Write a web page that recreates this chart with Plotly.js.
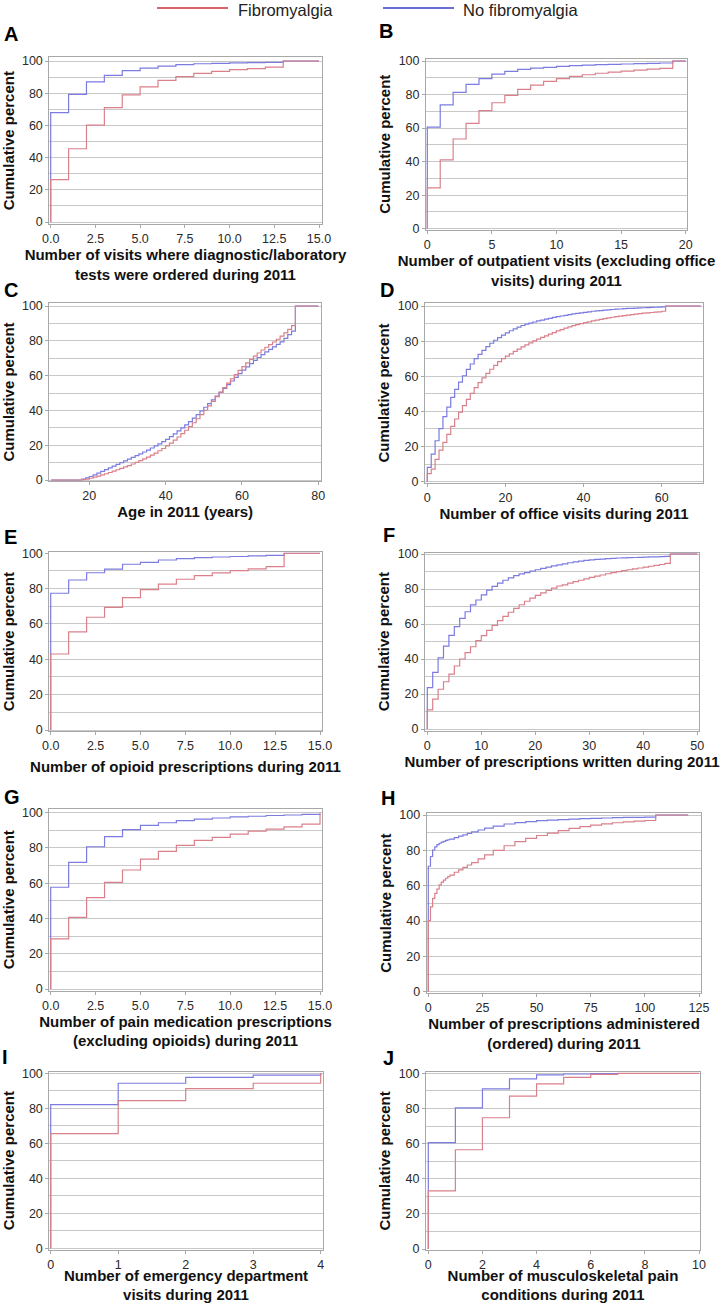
<!DOCTYPE html>
<html><head><meta charset="utf-8">
<script src="https://cdn.plot.ly/plotly-3.0.1.min.js"></script>
<style>html,body{margin:0;padding:0;background:#fff}</style>
</head><body><div id="chart" style="width:728px;height:1303px"></div>
<script>
// ---------------- DATA (cumulative percent, empirical CDF steps) ----------------
const seriesNames = ["Fibromyalgia", "No fibromyalgia"];

// A: visits with diagnostic/laboratory tests
const aX   = [0, 0, 1, 2, 3, 4, 5, 6, 7, 8, 9, 10, 11, 12, 13, 15];
const aFib = [0, 26.3, 45.5, 60.2, 71.0, 78.9, 83.9, 88.0, 90.3, 92.3, 93.5, 94.6, 95.3, 96.2, 100, 100];
const aNo  = [0, 67.9, 79.3, 87.0, 91.1, 94.0, 95.6, 96.8, 97.7, 98.3, 98.5, 98.8, 99.0, 99.1, 100, 100];

// B: outpatient visits (excluding office visits)
const bX   = [0, 0, 1, 2, 3, 4, 5, 6, 7, 8, 9, 10, 11, 12, 13, 14, 15, 16, 17, 18, 19, 20];
const bFib = [0, 24.3, 41.0, 53.5, 62.8, 70.4, 75.1, 79.5, 83.1, 85.6, 87.8, 89.5, 90.8, 91.8, 92.7, 93.4, 94.0, 94.6, 95.1, 95.6, 100, 100];
const bNo  = [0, 60.6, 73.8, 81.3, 86.1, 89.5, 92.2, 93.8, 95.0, 95.8, 96.2, 96.8, 97.2, 97.5, 97.8, 98.0, 98.2, 98.4, 98.6, 98.8, 100, 100];

// C: age in 2011 (years)
const cX   = [10, 18, 19, 20, 21, 22, 23, 24, 25, 26, 27, 28, 29, 30, 31, 32, 33, 34, 35, 36, 37, 38, 39, 40,
              41, 42, 43, 44, 45, 46, 47, 48, 49, 50, 51, 52, 53, 54, 55, 56, 57, 58, 59, 60, 61, 62, 63, 64,
              65, 66, 67, 68, 69, 70, 71, 72, 73, 74, 80];
const cFib = [0, 0.2, 0.5, 1.0, 1.6, 2.2, 2.9, 3.6, 4.3, 5.1, 5.9, 6.7, 7.5, 8.3, 9.2, 10.1, 11.1, 12.1, 13.2, 14.3, 15.5, 16.8, 18.1, 19.6,
              21.2, 22.9, 24.7, 26.6, 28.6, 30.7, 32.9, 35.2, 37.6, 40.1, 42.6, 45.2, 47.9, 50.5, 53.1, 55.7, 58.2, 60.6, 63.0, 65.2, 67.3, 69.3, 71.2, 73.0,
              74.7, 76.3, 77.8, 79.3, 80.9, 82.7, 84.6, 86.6, 88.7, 100, 100];
const cNo  = [0, 0.5, 1.2, 2.0, 3.0, 4.0, 5.0, 6.0, 7.0, 8.0, 9.0, 10.0, 11.0, 12.0, 13.0, 14.0, 15.0, 16.1, 17.2, 18.4, 19.6, 20.8, 22.1, 23.4,
              24.9, 26.5, 28.2, 29.9, 31.7, 33.6, 35.6, 37.6, 39.7, 41.8, 43.9, 46.0, 48.2, 50.4, 52.6, 54.8, 56.9, 59.0, 61.1, 63.1, 65.0, 66.9, 68.7, 70.4,
              72.0, 73.6, 75.1, 76.5, 77.9, 79.4, 81.4, 83.5, 85.6, 100, 100];

// D: office visits
const dX   = [0, 0, 1, 2, 3, 4, 5, 6, 7, 8, 9, 10, 11, 12, 13, 14, 15, 16, 17, 18, 19, 20, 21, 22, 23, 24, 25, 26, 27, 28, 29, 30,
              31, 32, 33, 34, 35, 36, 37, 38, 39, 40, 41, 42, 43, 44, 45, 46, 47, 48, 49, 50, 51, 52, 53, 54, 55, 56, 57, 58, 59, 60, 61, 70];
const dFib = [0, 4.6, 7.2, 12.7, 18.0, 22.4, 26.9, 31.5, 35.7, 39.6, 43.3, 46.9, 50.3, 53.5, 56.4, 59.1, 61.7, 64.0, 66.2, 68.3, 70.0, 71.5,
              72.8, 74.2, 75.5, 76.7, 77.9, 79.0, 80.1, 81.1, 82.1, 83.0, 84.0, 84.9, 85.8, 86.6, 87.4, 88.1, 88.8, 89.4, 90.0, 90.5,
              91.0, 91.5, 92.0, 92.4, 92.8, 93.2, 93.6, 93.9, 94.2, 94.5, 94.8, 95.1, 95.4, 95.7, 95.9, 96.1, 96.3, 96.5, 96.7, 97.0, 100, 100];
const dNo  = [0, 8.2, 15.7, 23.3, 30.2, 37.0, 42.5, 48.0, 52.6, 56.7, 60.3, 63.9, 67.0, 70.0, 72.5, 74.8, 76.9, 78.8, 80.5, 82.0, 83.4, 84.7,
              85.9, 87.0, 88.0, 88.9, 89.7, 90.2, 90.9, 91.5, 92.0, 92.5, 93.0, 93.5, 93.9, 94.3, 94.7, 95.1, 95.5, 95.8, 96.1, 96.4,
              96.7, 97.0, 97.2, 97.4, 97.6, 97.8, 98.0, 98.2, 98.3, 98.5, 98.6, 98.7, 98.8, 98.9, 99.0, 99.1, 99.2, 99.3, 99.4, 99.5, 100, 100];

// E: opioid prescriptions
const eX   = [0, 0, 1, 2, 3, 4, 5, 6, 7, 8, 9, 10, 11, 12, 13, 15];
const eFib = [0, 43.0, 55.5, 63.8, 69.4, 74.9, 79.4, 82.6, 85.3, 87.4, 88.9, 90.2, 91.2, 92.5, 100, 100];
const eNo  = [0, 77.4, 84.9, 89.0, 91.1, 93.8, 94.9, 96.2, 97.0, 97.5, 97.9, 98.2, 98.5, 98.8, 100, 100];

// F: prescriptions written
const fX   = [0, 0, 1, 2, 3, 4, 5, 6, 7, 8, 9, 10, 11, 12, 13, 14, 15, 16, 17, 18, 19, 20, 21, 22, 23, 24, 25, 26, 27, 28, 29, 30,
              31, 32, 33, 34, 35, 36, 37, 38, 39, 40, 41, 42, 43, 44, 45, 50];
const fFib = [0, 10.9, 17.1, 22.7, 27.0, 31.4, 36.0, 40.0, 43.6, 47.0, 50.5, 53.3, 56.3, 59.2, 61.9, 64.4, 66.7, 68.9, 71.0, 73.0, 74.8,
              76.3, 77.8, 79.2, 80.5, 81.7, 82.4, 83.3, 84.2, 85.0, 85.8, 86.6, 87.3, 88.0, 88.7, 89.3, 89.9, 90.5, 91.0, 91.5, 92.0,
              92.5, 93.0, 93.5, 94.0, 94.6, 100, 100];
const fNo  = [0, 23.6, 32.4, 40.6, 47.4, 53.5, 58.5, 63.2, 67.0, 70.9, 73.7, 76.6, 79.4, 81.5, 83.3, 85.0, 86.4, 87.6, 88.6, 89.4, 90.2,
              91.0, 91.8, 92.5, 93.2, 93.8, 94.4, 95.0, 95.5, 95.9, 96.3, 96.6, 96.9, 97.1, 97.3, 97.5, 97.7, 97.8, 97.9, 98.0, 98.1,
              98.2, 98.3, 98.4, 98.5, 98.6, 100, 100];

// G: pain medication prescriptions (excluding opioids)
const gX   = [0, 0, 1, 2, 3, 4, 5, 6, 7, 8, 9, 10, 11, 12, 13, 14, 15];
const gFib = [0, 28.4, 40.6, 51.8, 60.5, 67.5, 73.7, 78.1, 81.5, 84.3, 86.0, 87.8, 89.5, 90.7, 92.0, 93.5, 100];
const gNo  = [0, 57.7, 71.8, 80.7, 86.4, 90.4, 92.8, 94.3, 95.5, 96.3, 97.0, 97.6, 98.0, 98.4, 98.7, 99.0, 99.2];

// H: prescriptions administered (ordered)
const hX   = [0, 0, 1, 2, 3, 4, 5, 6, 7, 8, 9, 10, 12, 14, 16, 18, 20, 23, 26, 30, 35, 40, 45, 50, 55, 60, 65, 70, 75, 80, 85, 90, 95, 100, 105, 120];
const hFib = [0, 40.2, 48.0, 52.8, 55.7, 58.0, 60.4, 62.0, 63.2, 64.2, 65.1, 66.0, 67.6, 69.0, 70.4, 71.7, 73.0, 75.2, 77.4, 80.0, 82.6, 84.9,
              86.8, 88.4, 89.7, 91.2, 92.4, 93.4, 94.3, 95.0, 95.6, 96.1, 96.5, 96.9, 100, 100];
const hNo  = [0, 71.0, 76.5, 80.2, 82.0, 83.2, 84.0, 84.6, 85.1, 85.6, 86.0, 86.4, 87.2, 88.0, 88.8, 89.6, 90.4, 91.5, 92.6, 93.7, 94.9, 95.7,
              96.3, 96.8, 97.1, 97.4, 97.7, 97.9, 98.1, 98.3, 98.5, 98.6, 98.7, 98.8, 100, 100];

// I: emergency department visits
const iX   = [0, 0, 1, 2, 3, 4];
const iFib = [0, 65.5, 84.4, 91.2, 94.3, 100];
const iNo  = [0, 82.1, 94.3, 97.7, 98.9, 100];

// J: musculoskeletal pain conditions
const jFibX = [0, 0, 1, 2, 3, 4, 5, 6, 7, 10];
const jFib  = [0, 33.1, 56.5, 74.7, 87.0, 94.0, 97.7, 99.4, 100, 100];
const jNoX  = [0, 0, 1, 2, 3, 4, 5, 6, 7];
const jNo   = [0, 60.5, 80.3, 91.1, 96.8, 99.1, 99.6, 99.9, 100];

const xTitles = [
  "Number of visits where diagnostic/laboratory<br>tests were ordered during 2011",
  "Number of outpatient visits (excluding office<br>visits) during 2011",
  "Age in 2011 (years)",
  "Number of office visits during 2011",
  "Number of opioid prescriptions during 2011",
  "Number of prescriptions written during 2011",
  "Number of pain medication prescriptions<br>(excluding opioids) during 2011",
  "Number of prescriptions administered<br>(ordered) during 2011",
  "Number of emergency department<br>visits during 2011",
  "Number of musculoskeletal pain<br>conditions during 2011"
];
const panelLetters = ["A","B","C","D","E","F","G","H","I","J"];
const yTitle = "Cumulative percent";

const W = 728, H = 1303;
const RED = "#d9808a", BLUE = "#7b7be0";
const panels = [
  {box:[49.3,321.7,57.3,224],  xm:[50.7,0,319,15],   ym:[222,0,61,100],     dtick:2.5, fmt:".1f", tick0:0, so:3, lt:[2,34]},
  {box:[426,687,58.5,230],     xm:[427.3,0,685.7,20],ym:[228.7,0,61,100],   dtick:5,   fmt:"d",   tick0:0, so:0, lt:[377,31]},
  {box:[49.3,321,303,481],     xm:[89.3,20,318.3,80],ym:[480,0,306,100],    dtick:20,  fmt:"d",   tick0:20,so:3, lt:[2,290]},
  {box:[425,703,302.7,483.3],  xm:[427.3,0,661.7,60],ym:[481.7,0,306,100],  dtick:20,  fmt:"d",   tick0:0, so:3, lt:[378,290]},
  {box:[49.3,321.7,552.3,731], xm:[50.7,0,320,15],   ym:[730,0,553.3,100],  dtick:2.5, fmt:".1f", tick0:0, so:9, lt:[2,537]},
  {box:[425,699,552.7,730.5],  xm:[427.3,0,697.3,50],ym:[729,0,554,100],    dtick:10,  fmt:"d",   tick0:0, so:3, lt:[381,535]},
  {box:[49.3,321.7,809,990.5], xm:[50.7,0,320,15],   ym:[989,0,812.7,100],  dtick:2.5, fmt:".1f", tick0:0, so:0, lt:[2,797]},
  {box:[426.7,701.3,813.3,993],xm:[428.3,0,699,125], ym:[991.7,0,815,100],  dtick:25,  fmt:"d",   tick0:0, so:3, lt:[379,798]},
  {box:[49.3,322.7,1071.7,1249.5],xm:[50.7,0,320.7,4],ym:[1248.3,0,1073.3,100],dtick:1,fmt:"d",  tick0:0, so:4, lt:[0,1057]},
  {box:[426,700,1071.7,1250],  xm:[428.3,0,699,10],  ym:[1249,0,1073.3,100],dtick:2,   fmt:"d",   tick0:0, so:4, lt:[381,1058]}
];
function rangeFrom(p0, p1, m) {
  const k = (m[2] - m[0]) / (m[3] - m[1]);
  return [m[1] + (p0 - m[0]) / k, m[1] + (p1 - m[0]) / k];
}

const dataSets = [
  [aX, aNo, aX, aFib], [bX, bNo, bX, bFib], [cX, cNo, cX, cFib], [dX, dNo, dX, dFib], [eX, eNo, eX, eFib],
  [fX, fNo, fX, fFib], [gX, gNo, gX, gFib], [hX, hNo, hX, hFib], [iX, iNo, iX, iFib], [jNoX, jNo, jFibX, jFib]
];

const traces = [];
const layout = {
  width: W, height: H, margin: {l:0, r:0, t:0, b:0},
  paper_bgcolor: "#ffffff", plot_bgcolor: "#ffffff",
  showlegend: false,
  font: {family: "Liberation Sans, Arial, sans-serif", color: "#2a2a2a", size: 12.5},
  shapes: [], annotations: []
};

panels.forEach((p, i) => {
  const n = i + 1, xs = n === 1 ? "" : String(n);
  const ds = dataSets[i];
  traces.push({x: ds[0], y: ds[1], xaxis: "x" + xs, yaxis: "y" + xs, type: "scatter", mode: "lines",
               name: seriesNames[1], line: {shape: "hv", color: BLUE, width: 1.2}, hoverinfo: "x+y+name"});
  traces.push({x: ds[2], y: ds[3], xaxis: "x" + xs, yaxis: "y" + xs, type: "scatter", mode: "lines",
               name: seriesNames[0], line: {shape: "hv", color: RED, width: 1.2}, hoverinfo: "x+y+name"});
  const [l, r, t, b] = p.box;
  layout["xaxis" + xs] = {
    domain: [l / W, r / W], range: rangeFrom(l, r, p.xm), anchor: "y" + xs,
    showgrid: false, zeroline: false, showline: true, mirror: true, linecolor: "#a8a8a8", linewidth: 1,
    ticks: "outside", ticklen: 3, tickcolor: "#a8a8a8", tick0: p.tick0, dtick: p.dtick, tickformat: p.fmt,
    tickfont: {size: 12.5, color: "#2a2a2a"},
    title: {text: xTitles[i], font: {size: 15, color: "#111", family: "Liberation Sans, Arial, sans-serif", weight: "bold"}, standoff: p.so}
  };
  layout["yaxis" + xs] = {
    domain: [1 - b / H, 1 - t / H], range: rangeFrom(b, t, p.ym), anchor: "x" + xs,
    showgrid: true, gridcolor: "#c8c8c8", gridwidth: 1, zeroline: false,
    showline: true, mirror: true, linecolor: "#a8a8a8", linewidth: 1,
    ticks: "outside", ticklen: 3, tickcolor: "#a8a8a8", tick0: 0, dtick: 20,
    minor: {dtick: 10, showgrid: true, gridcolor: "#c8c8c8", ticks: ""},
    tickfont: {size: 12.5, color: "#2a2a2a"},
    title: {text: yTitle, font: {size: 15, color: "#111", family: "Liberation Sans, Arial, sans-serif", weight: "bold"}, standoff: 4}
  };
  layout.annotations.push({text: "<b>" + panelLetters[i] + "</b>", xref: "paper", yref: "paper",
    x: p.lt[0] / W, y: 1 - p.lt[1] / H, xanchor: "left", yanchor: "middle", showarrow: false,
    font: {size: 20, color: "#000"}});
});

// legend (drawn as header key)
const legendItems = [
  {x0: 157, x1: 228, tx: 237, color: "#c8323c", label: seriesNames[0]},
  {x0: 383, x1: 454, tx: 462, color: "#3a3ac8", label: seriesNames[1]}
];
legendItems.forEach(it => {
  layout.shapes.push({type: "line", xref: "paper", yref: "paper", x0: it.x0 / W, x1: it.x1 / W,
    y0: 1 - 8 / H, y1: 1 - 8 / H, line: {color: it.color, width: 1.5}});
  layout.annotations.push({text: it.label, xref: "paper", yref: "paper", x: it.tx / W, y: 1,
    xanchor: "left", yanchor: "top", borderpad: 0, showarrow: false, font: {size: 16.5, color: "#222"}});
});

Plotly.newPlot("chart", traces, layout, {staticPlot: true, displayModeBar: false});
</script></body></html>
